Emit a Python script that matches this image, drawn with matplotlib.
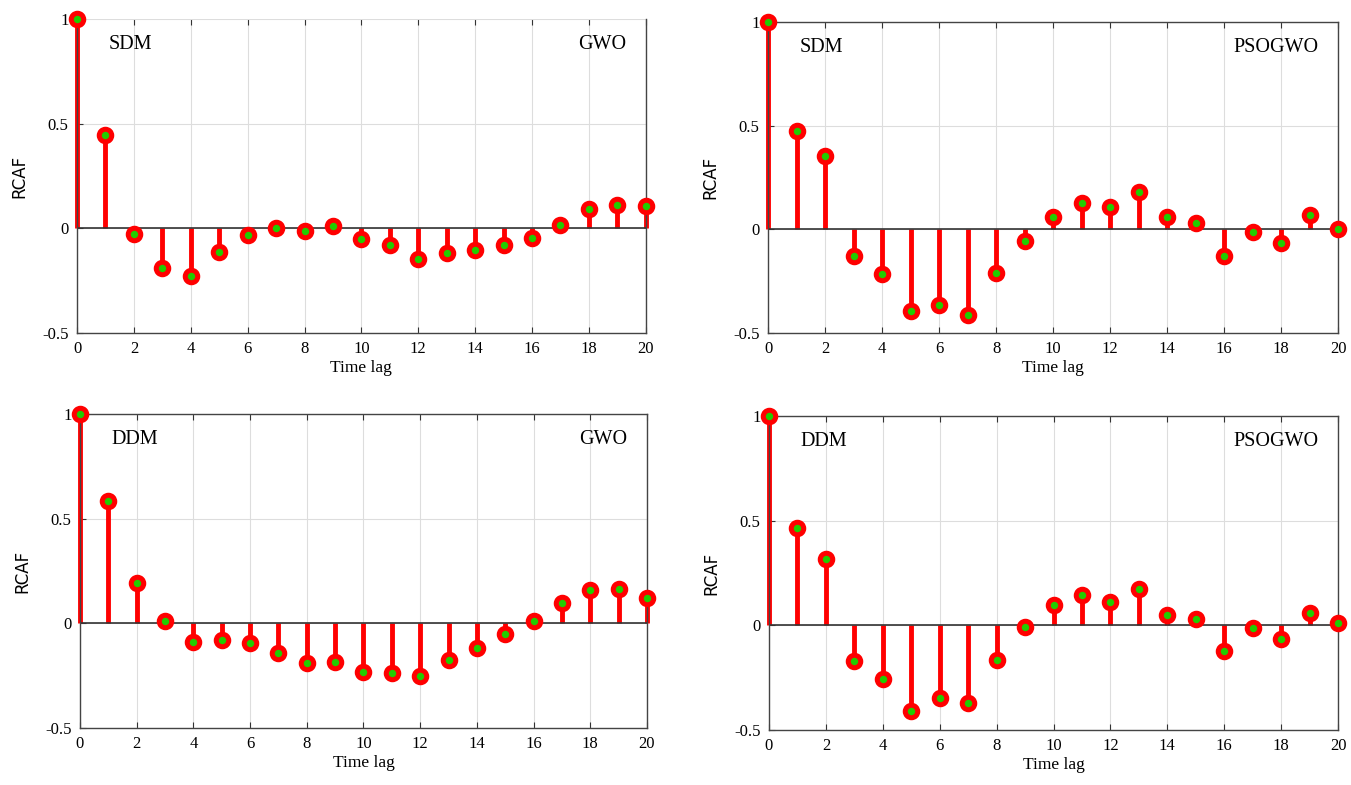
import matplotlib
matplotlib.use("Agg")
import matplotlib.pyplot as plt
import numpy as np

plt.rcParams['axes.unicode_minus'] = False
plt.rcParams['font.family'] = 'Liberation Serif'

lags = np.arange(21)

sdm_gwo = [1.0, 0.445, -0.025, -0.19, -0.23, -0.115, -0.03, 0.0, -0.015, 0.01, -0.05,
           -0.08, -0.145, -0.12, -0.105, -0.08, -0.045, 0.015, 0.09, 0.11, 0.105]
sdm_psogwo = [1.0, 0.475, 0.355, -0.128, -0.215, -0.395, -0.365, -0.415, -0.21, -0.058, 0.062,
              0.125, 0.11, 0.18, 0.058, 0.03, -0.128, -0.013, -0.067, 0.068, 0.0]
ddm_gwo = [1.0, 0.586, 0.195, 0.01, -0.09, -0.08, -0.095, -0.143, -0.19, -0.186, -0.233,
           -0.238, -0.252, -0.176, -0.119, -0.052, 0.01, 0.095, 0.157, 0.162, 0.119]
ddm_psogwo = [1.0, 0.464, 0.316, -0.172, -0.258, -0.407, -0.345, -0.373, -0.163, -0.01, 0.096,
              0.143, 0.11, 0.172, 0.048, 0.029, -0.124, -0.013, -0.067, 0.057, 0.009]

panels = [
    (sdm_gwo, 'SDM', 'GWO', [0.057, 0.5758, 0.421, 0.400], False),
    (sdm_psogwo, 'SDM', 'PSOGWO', [0.5685, 0.5758, 0.422, 0.396], True),
    (ddm_gwo, 'DDM', 'GWO', [0.0592, 0.0726, 0.4197, 0.400], True),
    (ddm_psogwo, 'DDM', 'PSOGWO', [0.5692, 0.070, 0.4212, 0.400], True),
]

fig = plt.figure(figsize=(13.51, 7.85), dpi=100)

for vals, left_txt, right_txt, rect, top_spine in panels:
    ax = fig.add_axes(rect)
    ax.set_axisbelow(True)
    ax.grid(True, color='#dddddd', linewidth=0.8)
    markerline, stemlines, baseline = ax.stem(lags, vals)
    plt.setp(stemlines, color='red', linewidth=3.5, clip_on=False)
    plt.setp(markerline, marker='o', markersize=9, markerfacecolor='#22cc00',
             markeredgecolor='red', markeredgewidth=3.6, zorder=5, clip_on=False)
    plt.setp(baseline, color='#333333', linewidth=1.2)
    ax.set_xlim(0, 20)
    ax.set_ylim(-0.5, 1)
    ax.set_xticks(range(0, 21, 2))
    ax.set_yticks([-0.5, 0, 0.5, 1])
    ax.set_yticklabels(['-0.5', '0', '0.5', '1'])
    ax.tick_params(direction='in', length=4, labelsize=12, top=True, color='#333333', pad=6)
    for s in ax.spines.values():
        s.set_color('#444444')
        s.set_linewidth(1.0)
    ax.spines['top'].set_visible(top_spine)
    ax.set_xlabel('Time lag', fontsize=12.5, labelpad=2)
    ax.set_ylabel('RCAF', fontsize=12, family='DejaVu Sans', labelpad=10)
    ax.text(0.055, 0.92, left_txt, transform=ax.transAxes, fontsize=14.5, va='center', ha='left')
    ax.text(0.965, 0.92, right_txt, transform=ax.transAxes, fontsize=14.5, va='center', ha='right')

fig.savefig('out.png', dpi=100)
